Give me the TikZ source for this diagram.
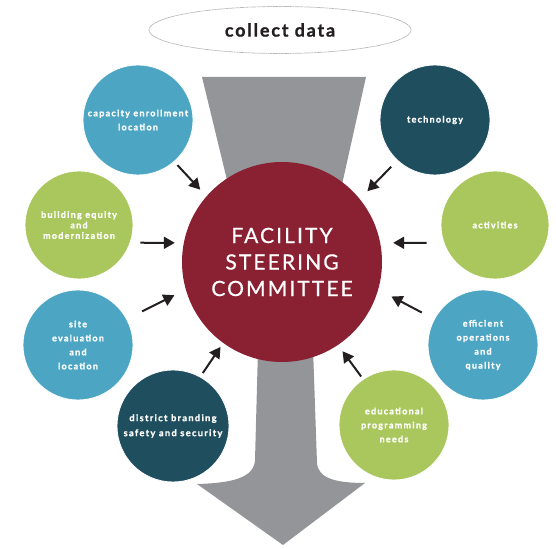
\documentclass[tikz,border=0pt]{standalone}
\usepackage{fontspec}
\setmainfont{Lato}
\newfontfamily\cf{Lato}[LetterSpace=14, BoldFeatures={FakeBold=1.3}]
\newfontfamily\colf{Lato}[LetterSpace=10, BoldFeatures={FakeBold=1}]
\newfontfamily\bigf{Lato}[LetterSpace=10, FakeBold=0.7]
\usetikzlibrary{arrows.meta,shapes.geometric}
\definecolor{cblue}{HTML}{4CA6C3}
\definecolor{cgreen}{HTML}{A9C75D}
\definecolor{cdark}{HTML}{1F4F5F}
\definecolor{cmaroon}{HTML}{8A2133}
\definecolor{cgray}{HTML}{939598}
\definecolor{cink}{HTML}{231F20}
\tikzset{
  small/.style={circle, minimum size=110pt, inner sep=0pt, draw=white, line width=0.8pt},
  txt/.style={text=white, align=center, font=\cf\bfseries\fontsize{9}{14}\selectfont},
  arr/.style={draw=cink, line width=2pt, -{Triangle[length=11pt,width=12pt]}},
}
\begin{document}
\begin{tikzpicture}[x=1pt,y=1pt]
\useasboundingbox (0,0) rectangle (556,548);
% collect data
\node[ellipse, minimum width=262pt, minimum height=47pt, draw=cgray, line width=0.7pt,
      dash pattern=on 0.5pt off 0.6pt, text=cink, font=\colf\bfseries\fontsize{18}{20}\selectfont]
      (collect) at (280,518) {collect data};
% funnel
\fill[cgray] (202,471) -- (366,471) -- (312,229) -- (317,85)
  .. controls (318,70) and (335,65) .. (365,65) -- (283,3) -- (197,64)
  .. controls (232,65) and (254,70) .. (255,88) -- (259,236) -- cycle;
% central circle
\node[circle, fill=cmaroon, minimum size=200pt, inner sep=0pt, text=white, align=center,
      font=\bigf\fontsize{21}{26.5}\selectfont] (big) at (282,286)
      {FACILITY\\STEERING\\COMMITTEE};
% satellites
\node[small, fill=cblue, label={[txt]center:{capacity enrollment\\location}}] (c1) at (138,428) {};
\node[small, fill=cgreen, minimum size=108pt, label={[txt, font=\cf\bfseries\fontsize{9}{10.5}\selectfont]center:{building equity\\and\\modernization}}] (c2) at (79,323) {};
\node[small, fill=cblue, label={[txt]center:{site\\evaluation\\and\\location}}] (c3) at (78,203) {};
\node[small, fill=cdark, minimum size=112pt, label={[txt, font=\cf\bfseries\fontsize{9.3}{15}\selectfont]center:{district branding\\safety and security}}] (c4) at (173,122) {};
\node[small, fill=cdark, label={[txt]center:{technology}}] (c5) at (435,428) {};
\node[small, fill=cgreen, minimum size=108pt, label={[txt]center:{activities}}] (c6) at (495,323) {};
\node[small, fill=cblue, label={[txt]center:{efficient\\operations\\and\\quality}}] (c7) at (483,203) {};
\node[small, fill=cgreen, label={[txt]center:{educational\\programming\\needs}}] (c8) at (394,123) {};
% arrows
\draw[arr, shorten <=4.5pt, shorten >=9pt] (c1.-49) -- (big.139.5);
\draw[arr, shorten <=10pt, shorten >=8.8pt] (c2.-19.5) -- (big.169);
\draw[arr, shorten <=17pt, shorten >=12.6pt] (c3.28) -- (big.196.5);
\draw[arr, shorten <=4.4pt, shorten >=4.6pt] (c4.61.3) -- (big.234.3);
\draw[arr, shorten <=8.7pt, shorten >=10.8pt] (c5.227.5) -- (big.39.9);
\draw[arr, shorten <=17pt, shorten >=12.8pt] (c6.199.5) -- (big.11);
\draw[arr, shorten <=13.9pt, shorten >=14.8pt] (c7.152) -- (big.-16.7);
\draw[arr, shorten <=3.2pt, shorten >=7.6pt] (c8.124.5) -- (big.-56.8);
\end{tikzpicture}
\end{document}
